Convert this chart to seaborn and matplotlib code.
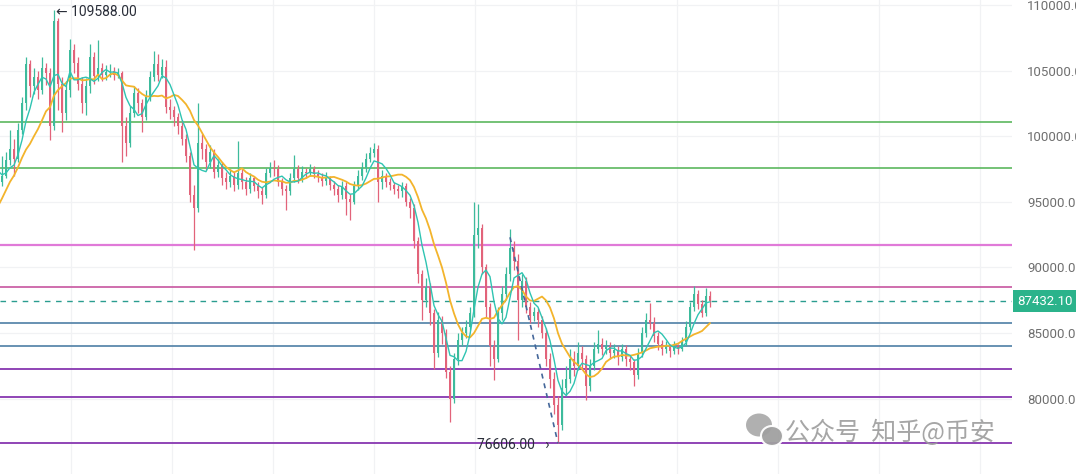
import numpy as np
import pandas as pd
import matplotlib
matplotlib.use("Agg")
import matplotlib.pyplot as plt
from matplotlib.patches import Ellipse
import seaborn as sns

# ---------------- data ----------------
# closes before the visible window (only used to warm up the moving averages)
warmup_close = [89000, 89500, 90000, 90500, 91500, 92500, 93000, 93800,
                98000, 98500, 97500, 97000, 97300, 96500]

close = [
    97000, 98200, 99000, 98300, 100500, 102500, 105500, 103800, 104500, 103500,
    105200, 104800, 100800, 108800, 104000, 101800, 103500, 106600, 105600, 104000,
    102500, 103800, 106000, 104600, 105200, 104700, 104900, 105000, 104700, 104800,
    100800, 99500, 101800, 103300, 102500, 101500, 103000, 104500, 105500, 104700,
    105300, 102200, 102000, 101500, 100800, 99800, 98500, 95500, 94500, 99500,
    99000, 98000, 98800, 97300, 97800, 96800, 96500, 97000, 96300, 97200,
    96500, 96000, 96800, 96200, 95800, 95500, 97200, 97600, 97500, 96500,
    96000, 95800, 96800, 97500, 96800, 97300, 97200, 97500, 97100, 96900,
    96600, 96800, 96300, 96000, 95500, 96200, 95200, 95000, 96200, 97000,
    97600, 98300, 98700, 99000, 96500, 97000, 96500, 96300, 96000, 95800,
    96200, 95000, 94500, 92000, 89500, 87500, 88500, 86500, 83500, 86000,
    85000, 82000, 80000, 83000, 84500, 85000, 85500, 86500, 92500, 93000,
    90000, 87000, 84000, 83000, 86500, 88000, 89500, 91500, 90500, 87500,
    89000, 87000, 86300, 86600, 86000, 85000, 83000, 81500, 79500, 78000,
    80800, 81500, 83000, 82500, 83500, 83000, 81000, 82500, 83800, 84200,
    83800, 84000, 83500, 83700, 83200, 83800, 83000, 82800, 81800, 83500,
    85000, 86000, 85800, 84800, 84200, 83800, 84000, 83600, 84000, 83800,
    84300, 85500, 87000, 88000, 87200, 86500, 87800, 87432,
]
high = [
    98500, 98800, 100500, 99800, 101000, 103000, 106000, 105800, 105200, 105000,
    106000, 105600, 105200, 109588, 109000, 104500, 104200, 107400, 107000, 106000,
    104500, 104400, 107000, 106400, 107300, 105600, 105400, 105500, 105300, 105200,
    105000, 101500, 102300, 103800, 103700, 102800, 103500, 105000, 106500, 106300,
    105900, 105800, 102800, 102300, 101800, 101200, 100200, 98800, 96300, 102500,
    100200, 99400, 99300, 99000, 98300, 98000, 97300, 97500, 97300, 99600,
    97500, 96900, 97200, 97000, 96500, 96100, 97600, 98000, 98200, 97800,
    96800, 96300, 97200, 98600, 97800, 97700, 97600, 97900, 97700, 97400,
    97200, 97300, 97000, 96600, 96300, 96600, 96500, 95600, 96600, 97400,
    98000, 98700, 99200, 99500, 99300, 97400, 97200, 96800, 96500, 96300,
    96500, 96400, 95300, 94800, 92300, 89800, 89200, 88800, 86800, 86600,
    86300, 85300, 82500, 83500, 85000, 85500, 86000, 87000, 95000, 94800,
    93300, 90300, 87300, 84500, 87000, 88600, 90000, 92900, 92000, 91000,
    89500, 89300, 87400, 87000, 86900, 86300, 85400, 83500, 82000, 80200,
    81500, 82500, 83800, 83600, 84300, 84000, 83300, 83000, 84300, 85200,
    84600, 84500, 84300, 84200, 84000, 84200, 84100, 83300, 83000, 83900,
    85500, 86500, 87300, 86200, 85100, 84500, 84400, 84200, 84400, 84200,
    84700, 85900, 87400, 88600, 88300, 87500, 88400, 88200,
]
low = [
    96200, 96800, 97800, 97000, 98000, 100200, 102000, 103000, 103200, 102800,
    103200, 103900, 99700, 100500, 102000, 100300, 101200, 103000, 104800, 103500,
    101800, 101600, 103300, 104000, 104200, 104200, 104300, 104500, 104300, 104400,
    98000, 98500, 99200, 101500, 101800, 100300, 101200, 102700, 104200, 104200,
    104400, 101800, 101300, 100800, 100200, 99300, 98000, 95000, 91300, 94200,
    98300, 97400, 97600, 96800, 96900, 96300, 96000, 96100, 95800, 96000,
    96000, 95500, 95700, 95800, 95300, 94800, 95300, 96900, 97000, 96200,
    95500, 94400, 95500, 96500, 96400, 96500, 96800, 97000, 96800, 96500,
    96200, 96300, 95900, 95500, 95000, 95200, 94000, 93600, 94800, 95900,
    96700, 97300, 98000, 98400, 95000, 96000, 96100, 95900, 95600, 95300,
    95400, 94700, 93800, 91500, 88800, 86000, 87000, 85600, 82300, 83200,
    84200, 81600, 78200, 79700, 82600, 84000, 84600, 85200, 86200, 91500,
    89500, 86200, 82500, 81400, 82800, 86000, 87500, 89000, 89800, 84500,
    87000, 86500, 85800, 85900, 85500, 84600, 82500, 80800, 78800, 76606,
    77600, 80200, 81200, 81700, 82200, 82300, 79900, 80600, 82200, 83500,
    83300, 83400, 83000, 83100, 82600, 82900, 82500, 82200, 81000, 81500,
    83200, 84700, 85300, 84300, 83700, 83300, 83500, 83200, 83400, 83400,
    83600, 84000, 85200, 86700, 86800, 86200, 86300, 87000,
]

level_green = [101100, 97600]
level_pink = [91700]
level_magenta = [88500]
level_blue = [85800, 84000]
level_purple = [82300, 80100, 76600]
last_price = 87432.10
peak_label = 109588.00
trough_label = 76606.00
trend_x = [127.0, 139.0]
trend_y = [92300, 76606]
y_ticks = [80000, 85000, 90000, 95000, 100000, 105000, 110000]
watermark = "公众号  知乎@币安"

# ---------------- derived ----------------
all_close = warmup_close + close
idx_all = np.arange(-len(warmup_close), len(close))
df_all = pd.DataFrame({"idx": idx_all, "close": all_close})
df_all["ma_fast"] = df_all["close"].rolling(5).mean()
df_all["ma_slow"] = df_all["close"].rolling(12).mean()

n = len(close)
idx = np.arange(n)
opens = np.array([warmup_close[-1]] + close[:-1], dtype=float)
closes = np.array(close, dtype=float)
highs = np.array(high, dtype=float)
lows = np.array(low, dtype=float)
up = closes >= opens
UP = "#3dbb9c"
DOWN = "#e2637a"
colors = np.where(up, UP, DOWN)

# ---------------- figure ----------------
sns.set_theme(style="white")
plt.rcParams["font.family"] = ["Roboto", "DejaVu Sans"]

W, H = 1076, 474
fig = plt.figure(figsize=(W / 100, H / 100), dpi=100)
fig.patch.set_facecolor("white")
ax = fig.add_axes([0, 0, 1012 / W, 1])
ax.set_facecolor("white")

x_per_px = 0.25
ax.set_xlim(-0.5, 1012 * x_per_px - 0.5)
ax.set_ylim(74262, 110381)

# grid
for yv in y_ticks:
    ax.axhline(yv, color="#f1f2f4", lw=0.9, zorder=0)
for xv in np.arange(17.25, 253, 25.25):
    ax.axvline(xv, color="#f1f2f4", lw=0.9, zorder=0)

# horizontal levels
for yv in level_green:
    ax.axhline(yv, color="#5cb85f", lw=1.2, zorder=1)
for yv in level_pink:
    ax.axhline(yv, color="#e07ad8", lw=1.6, zorder=1)
for yv in level_magenta:
    ax.axhline(yv, color="#c7559f", lw=1.2, zorder=1)
for yv in level_blue:
    ax.axhline(yv, color="#4e7fa6", lw=1.2, zorder=1)
for yv in level_purple:
    ax.axhline(yv, color="#8736b0", lw=1.3, zorder=1)
ax.axhline(last_price, color="#2a9d8f", lw=1.0, ls=(0, (4, 4)), zorder=1)

# candles
ax.vlines(idx, lows, highs, colors=colors, lw=0.9, zorder=3)
body_bottom = np.minimum(opens, closes)
body_h = np.maximum(np.abs(closes - opens), 60)
ax.bar(idx, body_h, bottom=body_bottom, width=0.6, color=colors,
       edgecolor="none", zorder=3)

# moving averages
sns.lineplot(data=df_all, x="idx", y="ma_slow", color="#f3b42c", lw=1.3,
             ax=ax, zorder=4, legend=False)
sns.lineplot(data=df_all, x="idx", y="ma_fast", color="#2fc4b2", lw=1.0,
             ax=ax, zorder=5, legend=False)

# trend line
ax.plot(trend_x, trend_y, color="#45679a", lw=1.2, ls=(0, (3, 3)), zorder=6)

# labels for extremes
ax.text(idx[int(np.argmax(highs))] + 0.6, peak_label - 150, "\u2190 " + f"{peak_label:.2f}",
        ha="left", va="center", fontsize=10, color="#2a2e39", zorder=7)
ax.text(idx[int(np.argmin(lows))] - 2.2, trough_label - 150, f"{trough_label:.2f}   \u203a",
        ha="right", va="center", fontsize=10, color="#2a2e39", zorder=7)

# right price axis
ax.yaxis.tick_right()
ax.set_yticks(y_ticks)
ax.set_yticklabels([f"{v:.2f}" for v in y_ticks])
ax.tick_params(axis="y", length=0, pad=11, labelsize=9.5, labelcolor="#6f6f6f")
ax.set_xticks([])
ax.set_xlabel("")
ax.set_ylabel("")
for s in ax.spines.values():
    s.set_visible(False)

# last price box
ax.annotate(f"{last_price:.2f}", xy=(1.0, last_price),
            xycoords=("axes fraction", "data"),
            xytext=(4, 0), textcoords="offset points",
            ha="left", va="center", fontsize=9.5, color="white",
            bbox=dict(boxstyle="square,pad=0.35", fc="#2bb38b", ec="none"),
            annotation_clip=False, zorder=10)

# watermark
fig.text(785 / W, 1 - 433 / H, watermark, fontsize=18, color="#9c9c9c",
         family=["Noto Sans CJK SC", "DejaVu Sans"], ha="left", va="center",
         alpha=0.9, zorder=20)
fig.patches.append(Ellipse((759 / W, 1 - 425 / H), 26 / W, 23 / H,
                           transform=fig.transFigure, fc="#a8a8a8", ec="none", alpha=0.9))
fig.patches.append(Ellipse((772 / W, 1 - 436 / H), 22 / W, 20 / H,
                           transform=fig.transFigure, fc="#a0a0a0", ec="white", lw=1.5, alpha=0.95))

fig.savefig("out.png", dpi=100, facecolor="white")
